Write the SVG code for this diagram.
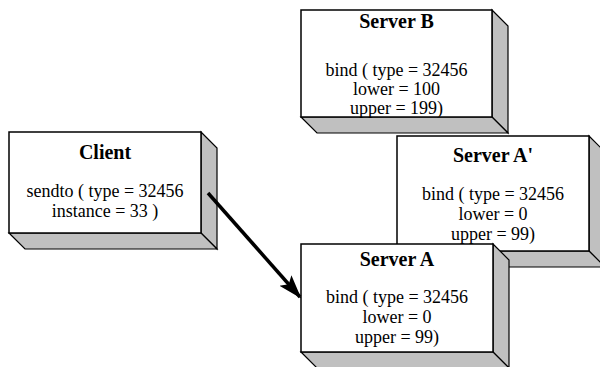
<svg xmlns="http://www.w3.org/2000/svg" width="600" height="367" viewBox="0 0 600 367">
<defs>
<style>
.front{fill:#ffffff;stroke:#000000;stroke-width:1.5}
.shade{fill:#c0c0c0;stroke:#000000;stroke-width:1.2;stroke-linejoin:miter}
.title{font-family:"Liberation Serif","Times New Roman",serif;font-size:20px;font-weight:bold;text-anchor:middle;fill:#000}
.body{font-family:"Liberation Serif","Times New Roman",serif;font-size:18px;text-anchor:middle;fill:#000}
.conn{stroke:#000;stroke-width:3.5;fill:none}
</style>
<marker id="arrow" markerUnits="userSpaceOnUse" markerWidth="24" markerHeight="18" refX="22" refY="8" orient="auto" viewBox="0 0 24 18">
<path d="M0,0 L24,8 L0,16 L5,8 z" fill="#000"/>
</marker>
</defs>
<rect width="600" height="367" fill="#ffffff"/>

<g id="serverB">
<polygon class="shade" points="492,10 508,26 508,133 492,117"/>
<polygon class="shade" points="301,117 492,117 508,133 317,133"/>
<rect class="front" x="301" y="10" width="191" height="107"/>
<text class="title" x="396.5" y="28">Server B</text>
<text class="body" x="396.5" y="76">bind ( type = 32456</text>
<text class="body" x="396.5" y="95">lower = 100</text>
<text class="body" x="396.5" y="114">upper = 199)</text>
</g>

<g id="serverAprime">
<polygon class="shade" points="589,136 605,152 605,267 589,251"/>
<polygon class="shade" points="397,251 589,251 605,267 413,267"/>
<rect class="front" x="397" y="136" width="192" height="115"/>
<text class="title" x="493" y="162">Server A'</text>
<text class="body" x="493" y="200">bind ( type = 32456</text>
<text class="body" x="493" y="220">lower = 0</text>
<text class="body" x="493" y="240">upper = 99)</text>
</g>

<g id="client">
<polygon class="shade" points="201,132 217,148 217,249 201,233"/>
<polygon class="shade" points="9,233 201,233 217,249 25,249"/>
<rect class="front" x="9" y="132" width="192" height="101"/>
<text class="title" x="105" y="159">Client</text>
<text class="body" x="105" y="197">sendto ( type = 32456</text>
<text class="body" x="105" y="217">instance = 33 )</text>
</g>

<g id="serverA">
<polygon class="shade" points="493,244 509,260 509,368 493,352"/>
<polygon class="shade" points="301,352 493,352 509,368 317,368"/>
<rect class="front" x="301" y="244" width="192" height="108"/>
<text class="title" x="397" y="266">Server A</text>
<text class="body" x="397" y="303">bind ( type = 32456</text>
<text class="body" x="397" y="323">lower = 0</text>
<text class="body" x="397" y="343">upper = 99)</text>
</g>

<g id="connectors">
<line class="conn" x1="208" y1="193" x2="300" y2="297" marker-end="url(#arrow)"/>
</g>
</svg>
